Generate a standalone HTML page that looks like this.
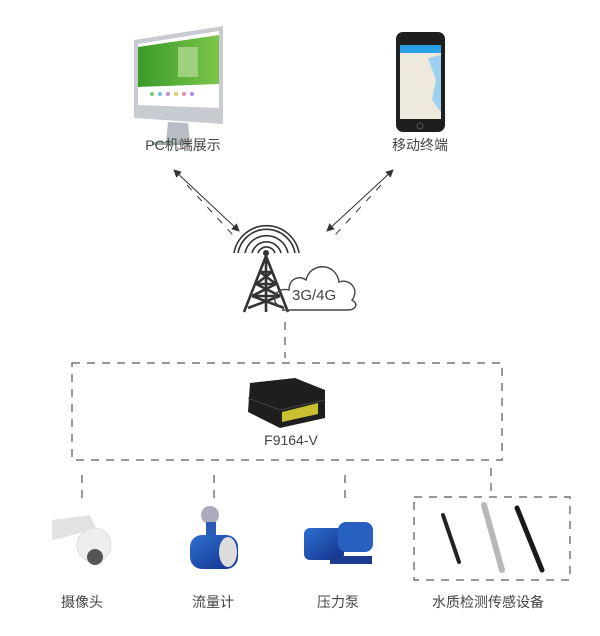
<!DOCTYPE html>
<html><head><meta charset="utf-8"><style>
html,body{margin:0;padding:0;background:#fff;}
svg{display:block;}
text{font-family:"Liberation Sans","Noto Sans CJK SC",sans-serif;fill:#444;}
</style></head><body>
<svg width="600" height="636" viewBox="0 0 600 636" xmlns="http://www.w3.org/2000/svg">
<defs>
<marker id="ah" markerWidth="8" markerHeight="8" refX="7" refY="4" orient="auto-start-reverse" markerUnits="userSpaceOnUse">
<path d="M0,0 L8,4 L0,8 Z" fill="#333"/></marker>
<linearGradient id="scr" x1="0" y1="0" x2="1" y2="0"><stop offset="0" stop-color="#3a9a2a"/><stop offset="1" stop-color="#7cc54a"/></linearGradient>
<linearGradient id="blu" x1="0" y1="0" x2="1" y2="1"><stop offset="0" stop-color="#2f6fd0"/><stop offset="1" stop-color="#12308a"/></linearGradient>
</defs>

<!-- Monitor -->
<path d="M134,40 L223,26 L223,124 L134,118 Z" fill="#c8ccd2"/>
<path d="M138,44 L219,31 L219,108 L138,105 Z" fill="#fff"/>
<path d="M138,47 L219,35 L219,84 L138,87 Z" fill="url(#scr)"/>
<rect x="178" y="47" width="20" height="30" fill="#9fd07c"/>
<g fill="#a8a">
<circle cx="152" cy="94" r="2" fill="#7c7"/><circle cx="160" cy="94" r="2" fill="#7bd"/><circle cx="168" cy="94" r="2" fill="#c8d"/><circle cx="176" cy="94" r="2" fill="#dc6"/><circle cx="184" cy="94" r="2" fill="#e8a"/><circle cx="192" cy="94" r="2" fill="#a8e"/></g>
<path d="M168,122 L188,123 L190,142 L166,142 Z" fill="#b8bcc4"/>
<rect x="152" y="142" width="38" height="3" fill="#9aa"/>

<!-- Phone -->
<rect x="396" y="32" width="49" height="100" rx="7" fill="#1e1e1e"/>
<rect x="400" y="45" width="41" height="74" fill="#eee9dc"/>
<rect x="400" y="45" width="41" height="8" fill="#2aa0e8"/>
<path d="M428,58 L441,55 L441,112 L432,100 L436,80 Z" fill="#9cd0ee"/>
<circle cx="420" cy="126" r="3" fill="none" stroke="#555"/>

<text x="183" y="150" font-size="14" text-anchor="middle">PC机端展示</text>
<text x="420" y="150" font-size="14" text-anchor="middle">移动终端</text>

<!-- Arrows -->
<g stroke="#333" stroke-width="1" fill="none">
<line x1="174" y1="170" x2="239" y2="231" marker-start="url(#ah)" marker-end="url(#ah)"/>
<line x1="393" y1="170" x2="327" y2="231" marker-start="url(#ah)" marker-end="url(#ah)"/>
<line x1="187" y1="185" x2="233" y2="235" stroke-dasharray="7,8"/>
<line x1="381" y1="185" x2="335" y2="235" stroke-dasharray="7,8"/>
</g>

<!-- Tower -->
<g stroke="#333" fill="none" stroke-width="1.6">
<path d="M245,253 A22,22 0 0 1 288,253"/>
<path d="M238,253 A29,29 0 0 1 295,253"/>
<path d="M234,253 A33,33 0 0 1 299,253"/>
<path d="M252,253 A15,15 0 0 1 281,253"/>
<path d="M258,253 A9,9 0 0 1 275,253"/>
</g>
<circle cx="266" cy="253" r="3" fill="#333"/>
<g stroke="#333" stroke-width="2.6" fill="none" stroke-linejoin="round">
<path d="M266,256 L244,312 M266,256 L288,312 M266,256 L266,312"/>
<path d="M260,272 L272,272 M256,284 L276,284 M252,296 L280,296 M260,272 L276,284 L252,296 M272,272 L256,284 L280,296 M252,296 L284,308 M280,296 L248,308"/>
</g>
<path d="M282,306 C270,306 273,286 289,290 C289,278 300,275 306,280 C310,262 336,262 339,282 C350,278 360,290 352,300 C360,305 354,310 348,310 L282,310" fill="none" stroke="#444" stroke-width="1.4"/>
<text x="292" y="300" font-size="15" fill="#444">3G/4G</text>

<!-- Dashed connectors -->
<g stroke="#777" stroke-width="1.5" fill="none" stroke-dasharray="8,7">
<line x1="285" y1="322" x2="285" y2="358"/>
<rect x="72" y="363" width="430" height="97"/>
<line x1="82" y1="475" x2="82" y2="503"/>
<line x1="214" y1="475" x2="214" y2="503"/>
<line x1="345" y1="475" x2="345" y2="503"/>
<path d="M491,468 L491,497"/>
<rect x="414" y="497" width="156" height="83"/>
</g>

<!-- Device -->
<path d="M250,383 L295,378 L325,390 L325,418 L280,428 L248,412 Z" fill="#1e1e1e"/>
<path d="M248,398 L280,410 L325,400" stroke="#444" fill="none"/>
<path d="M282,412 L318,403 L318,414 L282,422 Z" fill="#c8c030"/>
<text x="291" y="445" font-size="14" text-anchor="middle">F9164-V</text>

<!-- Camera -->
<path d="M52,520 L90,515 L96,528 L62,538 L52,540 Z" fill="#e2e2e2"/>
<circle cx="94" cy="545" r="17" fill="#eee" stroke="#ddd"/>
<circle cx="95" cy="557" r="8" fill="#555"/>
<!-- Flowmeter -->
<circle cx="210" cy="515" r="9" fill="#aab"/>
<rect x="206" y="522" width="10" height="14" fill="#2a5ab5"/>
<rect x="190" y="535" width="48" height="34" rx="12" fill="url(#blu)"/>
<ellipse cx="228" cy="552" rx="9" ry="15" fill="#ddd"/>
<!-- Pump -->
<rect x="304" y="528" width="40" height="32" rx="6" fill="url(#blu)"/>
<rect x="338" y="522" width="35" height="30" rx="8" fill="#2860c0"/>
<rect x="330" y="556" width="42" height="8" fill="#1c3c90"/>
<!-- Sensors -->
<g stroke-linecap="round">
<line x1="443" y1="515" x2="459" y2="562" stroke="#222" stroke-width="4"/>
<line x1="484" y1="505" x2="502" y2="570" stroke="#b8b8b8" stroke-width="6"/>
<line x1="517" y1="508" x2="542" y2="570" stroke="#1a1a1a" stroke-width="5"/>
</g>

<g font-size="14" text-anchor="middle">
<text x="82" y="607">摄像头</text>
<text x="213" y="607">流量计</text>
<text x="338" y="607">压力泵</text>
<text x="488" y="607">水质检测传感设备</text>
</g>
</svg>
</body></html>
